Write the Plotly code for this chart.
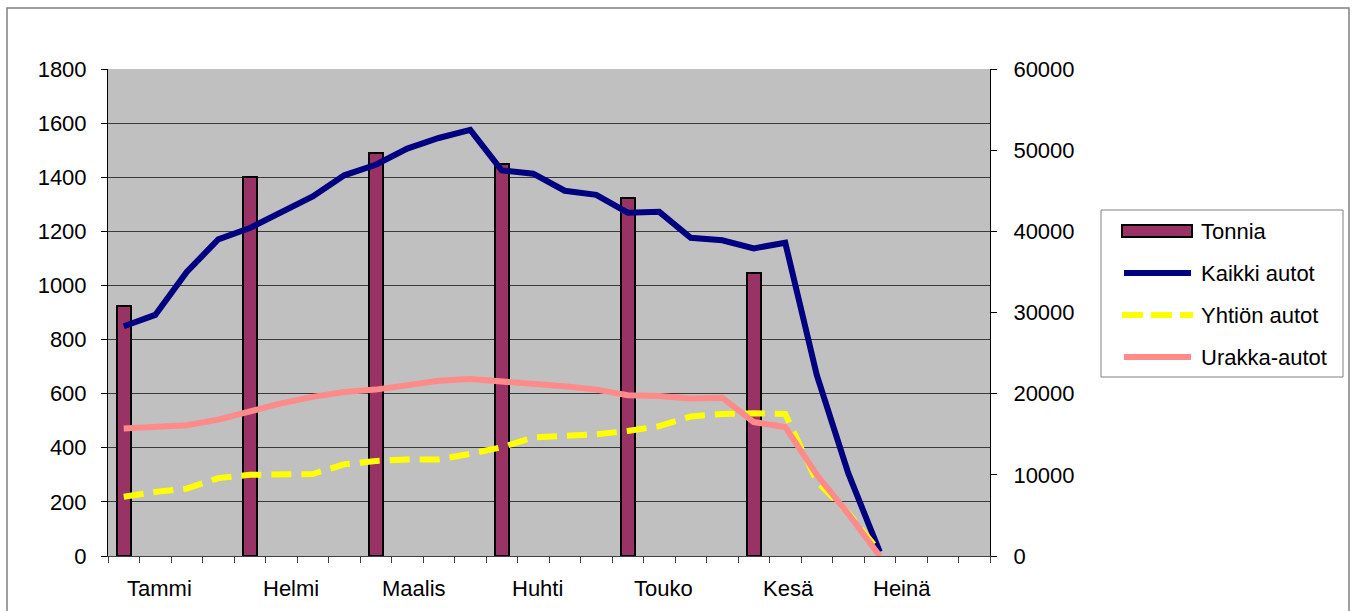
import plotly.graph_objects as go

# ---- data ----
weeks = list(range(1, 26))
tonnia_weeks = [1, 5, 9, 13, 17, 21]
tonnia = [925, 1400, 1490, 1450, 1325, 1045]
kaikki = [28300, 29700, 35000, 39000, 40400, 42400, 44300, 46900, 48200, 50200,
          51500, 52500, 47500, 47100, 45000, 44500, 42300, 42400, 39200, 38900,
          37900, 38600, 22300, 10200, 500]
yhtion = [7300, 7900, 8300, 9600, 10000, 10000, 10100, 11300, 11700, 11900,
          11900, 12600, 13400, 14600, 14800, 15000, 15400, 16000, 17200, 17500,
          17600, 17500, 9200, 5300, 500]
urakka = [15700, 15900, 16100, 16800, 17800, 18800, 19600, 20200, 20500, 21100,
          21600, 21800, 21500, 21300, 20900, 20500, 19800, 19700, 19400, 19500,
          16500, 15900, 10000, 5200, 0]
month_labels = ["Tammi", "Helmi", "Maalis", "Huhti", "Touko", "Kesä", "Heinä"]
month_pos = [2.15, 6.31, 10.21, 14.15, 18.15, 22.09, 25.72]
series_names = ["Tonnia", "Kaikki autot", "Yhtiön autot", "Urakka-autot"]
n_weeks = 28

FONT = "Liberation Sans, Arial, sans-serif"
C_BAR = "#993366"
C_KAIKKI = "#000080"
C_YHTION = "#FFFF00"
C_URAKKA = "#FF8A8A"

# body margin removed via post_script; plot area at x 108..990, y 69..556
W, H = 1354, 611
ML, MR, MT, MB = 108, 364, 69, 55
PW, PH = W - ML - MR, H - MT - MB


def px(x):  # window pixel x -> paper x
    return (x - ML) / PW


def py(y):  # window pixel y -> paper y
    return (H - MB - y) / PH


fig = go.Figure()
fig.add_trace(go.Bar(x=tonnia_weeks, y=tonnia, name=series_names[0], width=0.44,
                     marker=dict(color=C_BAR, line=dict(color="black", width=2))))
fig.add_trace(go.Scatter(x=weeks, y=kaikki, name=series_names[1], yaxis="y2", mode="lines",
                         line=dict(color=C_KAIKKI, width=6)))
fig.add_trace(go.Scatter(x=weeks, y=yhtion, name=series_names[2], yaxis="y2", mode="lines",
                         line=dict(color=C_YHTION, width=6, dash="20px,10px")))
fig.add_trace(go.Scatter(x=weeks, y=urakka, name=series_names[3], yaxis="y2", mode="lines",
                         line=dict(color=C_URAKKA, width=6)))

for lab, pos in zip(month_labels, month_pos):
    fig.add_annotation(x=pos, y=0, xref="x", yref="paper", yshift=-32, yanchor="middle",
                       text=lab, showarrow=False,
                       font=dict(family=FONT, size=22, color="black"))

shapes = []
# outer chart border
shapes.append(dict(type="rect", xref="paper", yref="paper",
                   x0=px(7), x1=px(1349), y0=py(625), y1=py(8),
                   line=dict(color="#808080", width=1.5), fillcolor="rgba(0,0,0,0)",
                   layer="below"))
# manual legend box
shapes.append(dict(type="rect", xref="paper", yref="paper",
                   x0=px(1101), x1=px(1343), y0=py(377), y1=py(210),
                   line=dict(color="#808080", width=1), fillcolor="white", layer="below"))
leg_y = [231, 273, 315, 357]
# Tonnia symbol
shapes.append(dict(type="rect", xref="paper", yref="paper",
                   x0=px(1122), x1=px(1192), y0=py(237), y1=py(225),
                   line=dict(color="black", width=2), fillcolor=C_BAR))
# line symbols
shapes.append(dict(type="line", xref="paper", yref="paper",
                   x0=px(1124), x1=px(1191), y0=py(leg_y[1]), y1=py(leg_y[1]),
                   line=dict(color=C_KAIKKI, width=6)))
shapes.append(dict(type="line", xref="paper", yref="paper",
                   x0=px(1122), x1=px(1193), y0=py(leg_y[2]), y1=py(leg_y[2]),
                   line=dict(color=C_YHTION, width=6, dash="21px,8px")))
shapes.append(dict(type="line", xref="paper", yref="paper",
                   x0=px(1124), x1=px(1191), y0=py(leg_y[3]), y1=py(leg_y[3]),
                   line=dict(color=C_URAKKA, width=6)))
for name, yy in zip(series_names, leg_y):
    fig.add_annotation(x=px(1199), y=py(yy), xref="paper", yref="paper",
                       xanchor="left", yanchor="middle", text=name, showarrow=False,
                       font=dict(family=FONT, size=22, color="black"))

fig.update_layout(
    width=W, height=H,
    margin=dict(l=ML, r=MR, t=MT, b=MB, autoexpand=False),
    paper_bgcolor="white", plot_bgcolor="#C0C0C0",
    font=dict(family=FONT, size=22, color="black"),
    showlegend=False,
    bargap=0,
    shapes=shapes,
    xaxis=dict(range=[0.5, n_weeks + 0.5], tickmode="array",
               tickvals=[i + 0.5 for i in range(n_weeks + 1)], ticks="outside",
               ticklen=6, tickcolor="#404040", showticklabels=False, showgrid=False,
               showline=True, linecolor="#404040", linewidth=1, zeroline=False),
    yaxis=dict(range=[0, 1800], dtick=200, ticks="outside", ticklen=6, tickcolor="black",
               showgrid=True, gridcolor="#3a3a3a", gridwidth=1, showline=True,
               linecolor="black", linewidth=1, zeroline=False, ticklabelstandoff=10),
    yaxis2=dict(range=[0, 60000], dtick=10000, tickformat="d", overlaying="y",
                side="right", ticks="outside", ticklen=6, tickcolor="black",
                showgrid=False, showline=True, linecolor="black", linewidth=1,
                zeroline=False, ticklabelstandoff=12),
)

fig.write_html("out.html",
               config={"displayModeBar": False},
               post_script="document.body.style.margin='0px';"
                           "document.body.style.overflow='hidden';")
